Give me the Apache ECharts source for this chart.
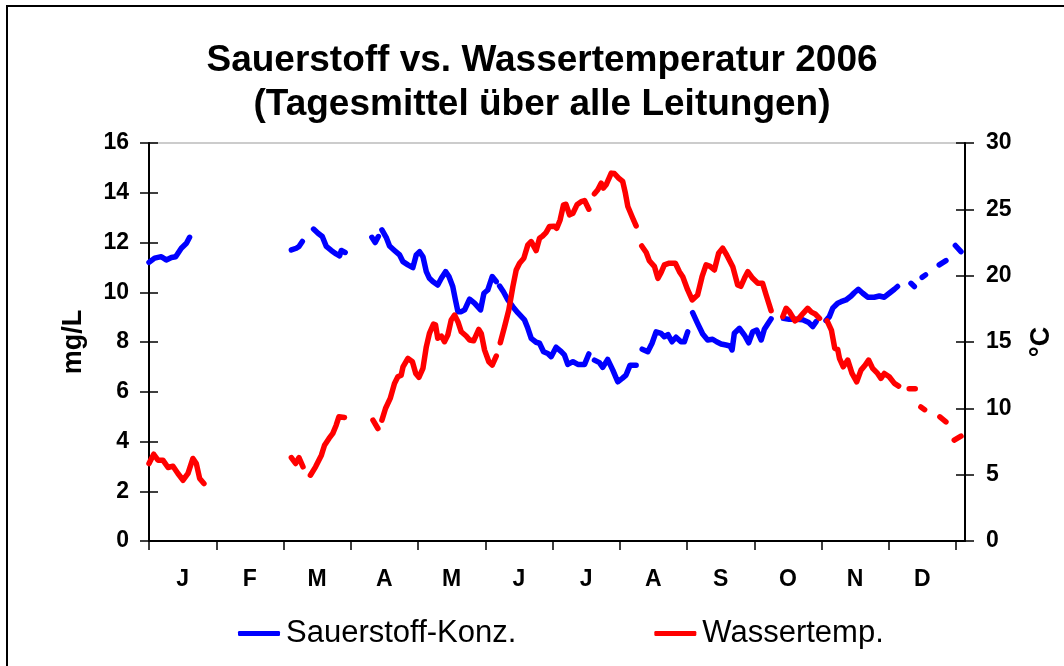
<!DOCTYPE html>
<html>
<head>
<meta charset="utf-8">
<title>Sauerstoff vs. Wassertemperatur 2006</title>
<script src="https://cdn.jsdelivr.net/npm/echarts@6/dist/echarts.min.js"></script>
<style>
  html, body { margin: 0; padding: 0; background: #fff; }
  #chart { width: 1064px; height: 666px; }
</style>
</head>
<body>
<div id="chart"></div>
<script>
// month letters, one tick every 30 days (Excel category axis with 365 days)
const months = ['J', 'F', 'M', 'A', 'M', 'J', 'J', 'A', 'S', 'O', 'N', 'D']
const leftTicks = [0, 2, 4, 6, 8, 10, 12, 14, 16]
const rightTicks = [0, 5, 10, 15, 20, 25, 30]

// [day of year, mg/L]  (null = no measurement)
const oxygen = [
  [0, 11.2], [2.5, 11.37], [5.5, 11.43], [7.7, 11.3], [10, 11.4], [11.9, 11.43],
  [14.4, 11.77], [16.7, 11.97], [18.1, 12.21],
  [40, null],
  [63.5, 11.7], [65.7, 11.77], [66.9, 11.84], [68.4, 12.04],
  [70.5, null],
  [73.4, 12.54], [75.4, 12.37], [77.3, 12.24], [79.1, 11.84], [81.3, 11.68],
  [83.5, 11.54], [85, 11.46], [85.8, 11.68], [87.5, 11.6],
  [93, null],
  [99.4, 12.21], [100.9, 12.0], [102.3, 12.24],
  [103.1, null],
  [103.9, 12.51], [105.8, 12.21], [107.3, 11.86], [109.5, 11.68], [111.8, 11.5],
  [113.3, 11.23], [115.5, 11.1], [117.7, 10.99], [119.2, 11.5], [120.7, 11.63],
  [122.2, 11.43], [123.7, 10.83], [125.1, 10.56], [126.6, 10.43], [128.8, 10.29],
  [130.4, 10.56], [132.3, 10.83], [133.8, 10.63], [135.5, 10.23], [136.7, 9.69],
  [137.8, 9.22], [139.3, 9.22], [140.8, 9.29], [143, 9.72], [145.2, 9.56],
  [147.9, 9.29], [149.4, 9.96], [151.1, 10.09], [153.1, 10.63], [154.9, 10.43],
  [155.6, null],
  [156.4, 10.25], [158.1, 10.02], [160.1, 9.69], [162.3, 9.42], [164.5, 9.18],
  [167.5, 8.89], [169, 8.55], [170.5, 8.15], [172.7, 7.99], [174.2, 7.95],
  [176, 7.61], [177.9, 7.54], [179.4, 7.41], [181.6, 7.79], [183.9, 7.61],
  [185.3, 7.48], [186.8, 7.1], [189.1, 7.21], [191.3, 7.1], [194.3, 7.1], [196.2, 7.52],
  [197.4, null],
  [198.7, 7.27], [200.9, 7.17], [202.4, 6.98], [204.6, 7.3], [206.9, 6.87],
  [209.1, 6.4], [211.1, 6.54], [212.8, 6.67], [214.6, 7.07], [217.3, 7.07],
  [218.6, null],
  [220, 7.71], [222.5, 7.61], [224.4, 7.95], [226.2, 8.41], [228.4, 8.35],
  [229.9, 8.21], [231.5, 8.3], [233.3, 8.01], [235.1, 8.19], [237.3, 8.01],
  [238.8, 8.01], [240.3, 8.41],
  [241.4, null],
  [242.5, 9.18], [244.7, 8.75], [247, 8.32], [249.2, 8.08], [251.4, 8.11],
  [253.2, 8.01], [255.2, 7.92], [257.4, 7.88], [259.2, 7.84], [260.1, 7.68],
  [261.1, 8.35], [263.4, 8.55], [265.6, 8.28], [267.5, 7.97], [269.3, 8.41],
  [271.1, 8.48], [273.1, 8.08], [274.5, 8.51], [276, 8.72], [277.5, 8.93],
  [280, null],
  [283, 8.95], [285.6, 8.91], [288.5, 8.91], [291.6, 8.89], [294.3, 8.78],
  [296.1, 8.62], [297.6, 8.82],
  [300, null],
  [302, 8.86], [303.5, 9.02], [305, 9.36], [307.2, 9.56], [308.7, 9.62],
  [310.9, 9.69], [313.2, 9.85], [314.6, 9.98], [316.4, 10.12], [318.4, 9.96],
  [320.6, 9.8], [323.5, 9.8], [325.8, 9.85], [328, 9.8], [330.2, 9.96],
  [332.5, 10.12], [333.9, 10.23],
  [337, null],
  [339.9, 10.36], [341.4, 10.23],
  [343, null],
  [344.9, 10.6], [346.4, 10.7],
  [349, null],
  [352.5, 11.1], [355.5, 11.27],
  [357, null],
  [359.7, 11.88], [362.2, 11.63]
]

// [day of year, °C]
const watertemp = [
  [0, 5.84], [2.1, 6.54], [4, 6.09], [6.2, 6.09], [8.5, 5.54], [10.7, 5.64],
  [12.9, 5.09], [15.2, 4.58], [17.4, 5.09], [19.6, 6.22], [21.1, 5.84],
  [22.6, 4.71], [24.5, 4.33],
  [40, null],
  [63.5, 6.29], [65.4, 5.84], [66.9, 6.29], [68.7, 5.59],
  [70.3, null],
  [72, 4.96], [74.3, 5.59], [76.9, 6.47], [78.3, 7.22], [80.3, 7.73],
  [82, 8.11], [83.5, 8.73], [84.7, 9.36], [87.2, 9.31],
  [93, null],
  [99.9, 9.11], [102.1, 8.48],
  [103, null],
  [103.9, 9.11], [105.5, 9.99], [107.6, 10.75], [109.5, 11.88], [111, 12.38],
  [112.5, 12.5], [113.3, 13.13], [115.5, 13.77], [117.5, 13.51], [119, 12.63],
  [120.4, 12.33], [122.2, 13.01], [123.7, 14.64], [125.1, 15.65], [126.9, 16.35],
  [127.8, 16.3], [128.8, 15.28], [130.4, 15.45], [131.8, 15.02], [133.3, 15.52],
  [134.8, 16.66], [136.3, 17.03], [137.8, 16.53], [139.3, 15.77], [141.5, 15.45],
  [143, 15.15], [144.8, 15.09], [147.1, 15.95], [148.2, 15.65], [149.7, 14.39],
  [151.6, 13.51], [153.1, 13.26], [154.9, 13.94],
  [155.8, null],
  [156.7, 14.94], [158.6, 16.15], [160.5, 17.41], [162.3, 19.17], [163.8, 20.43],
  [165.3, 20.94], [167.2, 21.31], [169, 22.32], [170.5, 22.57], [172.7, 21.89],
  [174.2, 22.82], [175.6, 22.99], [177.1, 23.25], [178.6, 23.7], [180.8, 23.73],
  [181.9, 23.57], [183.4, 24.2], [184.9, 25.34], [186, 25.38], [187.6, 24.58],
  [189.1, 24.71], [190.9, 25.34], [192.8, 25.58], [194.3, 25.66], [196.2, 25.01],
  [197.4, null],
  [198.7, 26.17], [200.2, 26.47], [201.7, 26.97], [202.7, 26.6], [203.9, 26.85],
  [206.2, 27.73], [207.6, 27.7], [209.5, 27.35], [211.3, 27.1], [212.5, 26.22],
  [213.6, 25.21], [215.8, 24.33], [217.3, 23.75],
  [218.5, null],
  [219.8, 22.24], [221.8, 21.74], [223.2, 21.13], [225.5, 20.68], [227, 19.8],
  [228.4, 20.23], [229.9, 20.81], [232.1, 20.94], [234.8, 20.94], [236.6, 20.3],
  [238.1, 19.92], [240.3, 18.92], [242.3, 18.17], [244.7, 18.54], [246.7, 19.92],
  [248.5, 20.81], [250.3, 20.7], [252.2, 20.43], [254.1, 21.69], [255.9, 22.07],
  [257.7, 21.56], [260.4, 20.68], [262.6, 19.3], [264, 19.2], [265.6, 19.8],
  [267.1, 20.3], [269.3, 19.8], [271.6, 19.43], [273.7, 19.43], [275.3, 18.54],
  [277.5, 17.36],
  [280, null],
  [282.7, 16.91], [284.2, 17.54], [285.6, 17.3], [288.1, 16.6], [289.9, 16.78],
  [291.8, 17.16], [293.8, 17.54], [295.5, 17.25], [297.2, 17.11], [299.1, 16.78],
  [300.8, null],
  [302.5, 16.6], [304.4, 15.9], [305.9, 14.52], [307.2, 14.45], [308, 13.77],
  [309.7, 13.13], [311.7, 13.64], [313.6, 12.63], [315.7, 12.0], [317.6, 12.88],
  [319.5, 13.26], [321, 13.64], [322.8, 13.01], [325, 12.63], [326.5, 12.26],
  [328, 12.63], [330.2, 12.38], [332.5, 11.88], [334.4, 11.68],
  [337, null],
  [339.1, 11.47], [341.8, 11.47],
  [343, null],
  [344.3, 10.1], [346, 9.9],
  [349, null],
  [352.8, 9.36], [355.5, 8.98],
  [357, null],
  [359.2, 7.6], [362.2, 7.9]
]

const FONT = 'Liberation Sans'

const chart = echarts.init(document.getElementById('chart'))

const tickStyle = { color: '#000', width: 1.5 }
const labelStyle = { fontFamily: FONT, fontSize: 23, fontWeight: 'bold', color: '#000' }

const option = {
  animation: false,
  backgroundColor: '#fff',
  title: {
    text: 'Sauerstoff vs. Wassertemperatur 2006\n(Tagesmittel über alle Leitungen)',
    left: 537,
    top: 34,
    textAlign: 'center',
    textStyle: { fontFamily: FONT, fontSize: 37, fontWeight: 'bold', color: '#000', lineHeight: 44 }
  },
  graphic: [{
    type: 'rect',
    shape: { x: 7, y: 6, width: 1100, height: 700 },
    style: { fill: null, stroke: '#000', lineWidth: 2 },
    silent: true
  }],
  legend: {
    left: 238,
    top: 618,
    padding: 0,
    itemWidth: 42,
    itemHeight: 5,
    itemGap: 138,
    icon: 'roundRect',
    textStyle: { fontFamily: FONT, fontSize: 31, color: '#000', padding: [0, 0, 0, 1] },
    data: ['Sauerstoff-Konz.', 'Wassertemp.']
  },
  grid: {
    left: 149,
    right: 99,
    top: 143,
    bottom: 125,
    show: true,
    borderColor: '#999',
    borderWidth: 1
  },
  xAxis: {
    type: 'value',
    min: 0,
    max: 364,
    axisLine: { lineStyle: { color: '#000', width: 2 } },
    axisTick: {
      length: 9,
      lineStyle: tickStyle,
      customValues: months.map((m, i) => i * 30).concat([360])
    },
    axisLabel: {
      ...labelStyle,
      margin: 27,
      customValues: months.map((m, i) => i * 30 + 15),
      formatter: v => months[Math.round((v - 15) / 30)]
    },
    splitLine: { show: false }
  },
  yAxis: [
    {
      type: 'value', position: 'left', min: 0, max: 16, interval: 2,
      name: 'mg/L', nameLocation: 'middle', nameRotate: 90, nameGap: 62,
      nameTextStyle: { fontFamily: FONT, fontSize: 27, fontWeight: 'bold', color: '#000' },
      axisLine: { show: true, lineStyle: { color: '#000', width: 2 } },
      axisTick: { show: true, length: 9, lineStyle: tickStyle, customValues: leftTicks },
      axisLabel: { ...labelStyle, margin: 20 },
      splitLine: { show: false }
    },
    {
      type: 'value', position: 'right', min: 0, max: 30, interval: 5,
      name: '°C', nameLocation: 'middle', nameRotate: 90, nameGap: 63,
      nameTextStyle: { fontFamily: FONT, fontSize: 27, fontWeight: 'bold', color: '#000' },
      axisLine: { show: true, lineStyle: { color: '#000', width: 2 } },
      axisTick: { show: true, length: 9, lineStyle: tickStyle, customValues: rightTicks },
      axisLabel: { ...labelStyle, margin: 21 },
      splitLine: { show: false }
    },
    // second copies only for the inner half of the crossing tick marks
    {
      type: 'value', position: 'left', min: 0, max: 16, interval: 2,
      axisLine: { show: false },
      axisTick: { show: true, inside: true, length: 9, lineStyle: tickStyle, customValues: leftTicks },
      axisLabel: { show: false },
      splitLine: { show: false }
    },
    {
      type: 'value', position: 'right', min: 0, max: 30, interval: 5,
      axisLine: { show: false },
      axisTick: { show: true, inside: true, length: 9, lineStyle: tickStyle, customValues: rightTicks },
      axisLabel: { show: false },
      splitLine: { show: false }
    }
  ],
  series: [
    {
      name: 'Sauerstoff-Konz.',
      type: 'line',
      yAxisIndex: 0,
      data: oxygen,
      showSymbol: false,
      connectNulls: false,
      color: '#0000ff',
      lineStyle: { width: 5.5, cap: 'round', join: 'round' }
    },
    {
      name: 'Wassertemp.',
      type: 'line',
      yAxisIndex: 1,
      data: watertemp,
      showSymbol: false,
      connectNulls: false,
      color: '#ff0000',
      lineStyle: { width: 5.5, cap: 'round', join: 'round' }
    }
  ]
}

chart.setOption(option)
</script>
</body>
</html>
